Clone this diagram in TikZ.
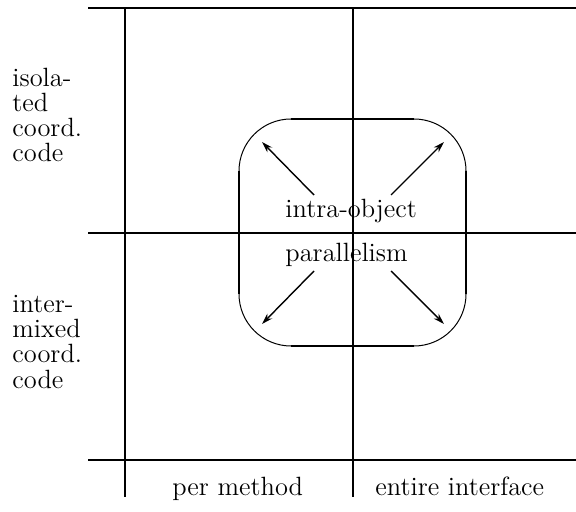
\documentclass[tikz,border=0pt]{standalone}
\usetikzlibrary{arrows.meta}
\begin{document}
\begin{tikzpicture}[x=0.5pt,y=-0.5pt,
  grid/.style={line width=1.3pt},
  boxedge/.style={line width=1pt},
  boxarc/.style={line width=0.5pt},
  arr/.style={line width=0.7pt,-{Stealth[length=5.5pt,width=3.4pt]}},
  lbl/.style={inner sep=0pt,font=\fontsize{13.2}{12.65}\selectfont,align=left,anchor=base west}]
\useasboundingbox (0,0) rectangle (576,512);
% grid coordinates
\coordinate (tl) at (88,8);   \coordinate (tr) at (576,8);
\coordinate (ml) at (88,233); \coordinate (mr) at (576,233);
\coordinate (bl) at (88,460); \coordinate (br) at (576,460);
\coordinate (v1t) at (125,8); \coordinate (v1b) at (125,497);
\coordinate (v2t) at (353,8); \coordinate (v2b) at (353,497);
\draw[grid] (tl) -- (tr);
\draw[grid] (ml) -- (mr);
\draw[grid] (bl) -- (br);
\draw[grid] (v1t) -- (v1b);
\draw[grid] (v2t) -- (v2b);
% rounded box
\coordinate (boxnw) at (239,119);
\coordinate (boxse) at (466,346);
\draw[boxarc,rounded corners=26pt] (boxnw) rectangle (boxse);
\coordinate (ta) at (291,119); \coordinate (tb) at (414,119);
\coordinate (ba) at (291,346); \coordinate (bb) at (414,346);
\coordinate (la) at (239,171); \coordinate (lb) at (239,294);
\coordinate (ra) at (466,171); \coordinate (rb) at (466,294);
\draw[boxedge] (ta) -- (tb);
\draw[boxedge] (ba) -- (bb);
\draw[grid] (la) -- (lb);
\draw[boxedge] (ra) -- (rb);
% arrows
\coordinate (a1s) at (314,195); \coordinate (a1e) at (262,142);
\coordinate (a2s) at (391,195); \coordinate (a2e) at (444,142);
\coordinate (a3s) at (314,271); \coordinate (a3e) at (262,324);
\coordinate (a4s) at (391,271); \coordinate (a4e) at (444,324);
\draw[arr] (a1s) -- (a1e);
\draw[arr] (a2s) -- (a2e);
\draw[arr] (a3s) -- (a3e);
\draw[arr] (a4s) -- (a4e);
% labels
\node[lbl] (intra) at (285,218) {intra-object};
\node[lbl] (para) at (285,262) {parallelism};
\node[lbl] (iso) at (12,162) {isola-\\ted\\coord.\\code};
\node[lbl] (inter) at (12,388) {inter-\\mixed\\coord.\\code};
\node[lbl] (per) at (172,495) {per method};
\node[lbl] (ent) at (375,495) {entire interface};
\end{tikzpicture}
\end{document}
